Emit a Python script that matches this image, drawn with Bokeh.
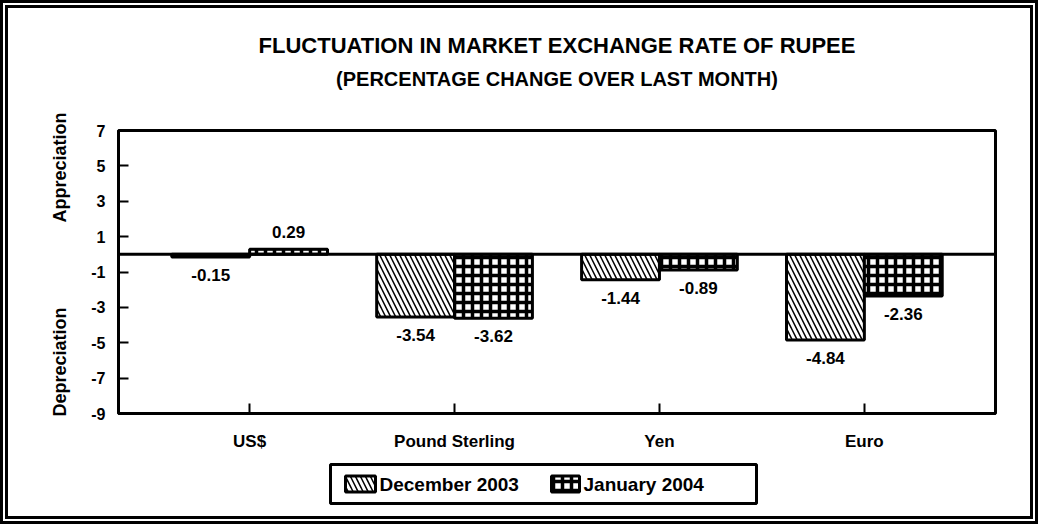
from bokeh.plotting import figure
from bokeh.layouts import column
from bokeh.models import ColumnDataSource, FactorRange, Range1d, FixedTicker, Span
from bokeh.transform import dodge
from bokeh.core.properties import value
from bokeh.embed import file_html
from bokeh.resources import INLINE

# ---- data ----
categories = ["US$", "Pound Sterling", "Yen", "Euro"]
dec_2003 = [-0.15, -3.54, -1.44, -4.84]
jan_2004 = [0.29, -3.62, -0.89, -2.36]
series_names = ["December 2003", "January 2004"]
y_ticks = [7, 5, 3, 1, -1, -3, -5, -7, -9]
title_text = "FLUCTUATION IN MARKET EXCHANGE RATE OF RUPEE"
subtitle_text = "(PERCENTAGE CHANGE OVER LAST MONTH)"
side_labels = ["Depreciation", "Appreciation"]   # bottom, top

FONT = "Liberation Sans"
NB = "\u00a0"

def fmt(v):
    return f"{v:.2f}"

source = ColumnDataSource(data=dict(
    cat=categories,
    dec=dec_2003,
    jan=jan_2004,
    dec_txt=[fmt(v) for v in dec_2003],
    jan_txt=[fmt(v) for v in jan_2004],
    dec_off=[18 if v < 0 else -17 for v in dec_2003],
    jan_off=[18 if v < 0 else -17 for v in jan_2004],
))

# ---- layout (page pixels) ----
B = 8                        # outer CSS border width
W = 1022
HT, HP, HL = 100, 350, 58    # title strip, chart, legend strip heights
FL, FT, FR, FB = 118, 130, 995, 413   # chart frame edges on the page
MB_L, MB_R = FL - B, W - (FR - B)
y0_chart = B + HT
y0_leg = y0_chart + HP

def strip(h, y_top):
    # frame aligned with the chart frame; data units = page pixels
    f = figure(width=W, height=h, x_range=Range1d(FL, FR),
               y_range=Range1d(y_top + h, y_top),
               x_axis_type=None, y_axis_type=None, output_backend="svg",
               toolbar_location=None, min_border_left=MB_L, min_border_right=MB_R,
               min_border_top=0, min_border_bottom=0)
    f.outline_line_color = None
    f.background_fill_color = "white"
    f.border_fill_color = "white"
    return f

# ---- title strip ----
tf = strip(HT, B)
cx = (FL + FR) / 2
tf.text(x=[cx], y=[45], text=[title_text], text_font=value(FONT),
        text_font_style="bold", text_font_size="22px", text_align="center",
        text_baseline="middle", text_color="black")
tf.text(x=[cx], y=[78], text=[subtitle_text], text_font=value(FONT),
        text_font_style="bold", text_font_size="20px", text_align="center",
        text_baseline="middle", text_color="black")

# ---- chart ----
p = figure(width=W, height=HP,
           x_range=FactorRange(factors=categories, range_padding=0.07),
           y_range=Range1d(-9, 7),
           output_backend="svg", toolbar_location=None, title=None,
           min_border_left=MB_L, min_border_right=MB_R,
           min_border_top=FT - y0_chart, min_border_bottom=y0_leg - FB)
p.background_fill_color = "white"
p.border_fill_color = "white"
p.outline_line_color = "black"
p.outline_line_width = 3
p.xgrid.visible = False
p.ygrid.visible = False

BW = 0.38
bar_dec = dict(fill_color="white", line_color="black", line_width=3,
               hatch_pattern="\\", hatch_color="black", hatch_scale=10, hatch_weight=1.5)
bar_jan = dict(fill_color="white", line_color="black", line_width=3,
               hatch_pattern="+", hatch_color="black", hatch_scale=9, hatch_weight=3.5)
p.vbar(x=dodge("cat", -BW / 2, range=p.x_range), top="dec", bottom=0, width=BW,
       source=source, **bar_dec)
p.vbar(x=dodge("cat", BW / 2, range=p.x_range), top="jan", bottom=0, width=BW,
       source=source, **bar_jan)

p.add_layout(Span(location=0, dimension="width", line_color="black", line_width=3))

for col, txt, off, dx in (("dec", "dec_txt", "dec_off", -BW / 2), ("jan", "jan_txt", "jan_off", BW / 2)):
    p.text(x=dodge("cat", dx, range=p.x_range), y=col, text=txt, y_offset=off,
           source=source, text_font=value(FONT), text_font_style="bold",
           text_font_size="17px", text_align="center", text_baseline="middle",
           text_color="black")

p.yaxis.ticker = FixedTicker(ticks=y_ticks)
p.yaxis.major_label_overrides = {t: str(t) for t in y_ticks}
for ax in (p.xaxis[0], p.yaxis[0]):
    ax.axis_line_color = "black"
    ax.axis_line_width = 3
    ax.major_tick_line_color = "black"
    ax.major_tick_line_width = 2
    ax.major_tick_in = 10
    ax.major_tick_out = 0
    ax.minor_tick_line_color = None
    ax.major_label_text_font = FONT
    ax.major_label_text_font_style = "bold"
    ax.major_label_text_color = "black"
p.yaxis.major_label_text_font_size = "16px"
p.yaxis.major_label_standoff = 13
p.xaxis.major_label_text_font_size = "17px"
p.xaxis.major_label_standoff = 18

p.yaxis.axis_label = NB * 3 + side_labels[0] + NB * 17 + side_labels[1]
p.yaxis.axis_label_text_font = FONT
p.yaxis.axis_label_text_font_style = "bold"
p.yaxis.axis_label_text_font_size = "18px"
p.yaxis.axis_label_text_color = "black"
p.yaxis.axis_label_standoff = 18

# ---- legend strip (drawn as a boxed key) ----
lf = strip(HL, y0_leg)
box_l, box_r, box_t, box_b = 330, 756, 464, 503
ky = (box_t + box_b) / 2
lf.rect(x=[(box_l + box_r) / 2], y=[ky], width=[box_r - box_l], height=[box_b - box_t],
        fill_color="white", line_color="black", line_width=3)
swatch_x = [360, 565]
lf.rect(x=[swatch_x[0]], y=[ky], width=30, height=16, **bar_dec)
lf.rect(x=[swatch_x[1]], y=[ky], width=28, height=16, **bar_jan)
lf.text(x=[swatch_x[0] + 19, swatch_x[1] + 18], y=[ky, ky], text=series_names,
        text_font=value(FONT), text_font_style="bold", text_font_size="19px",
        text_align="left", text_baseline="middle", text_color="black")

page = column(tf, p, lf, spacing=0)
page.styles = {"border": f"{B}px double black"}

open("out.html", "w").write(file_html(page, INLINE))
